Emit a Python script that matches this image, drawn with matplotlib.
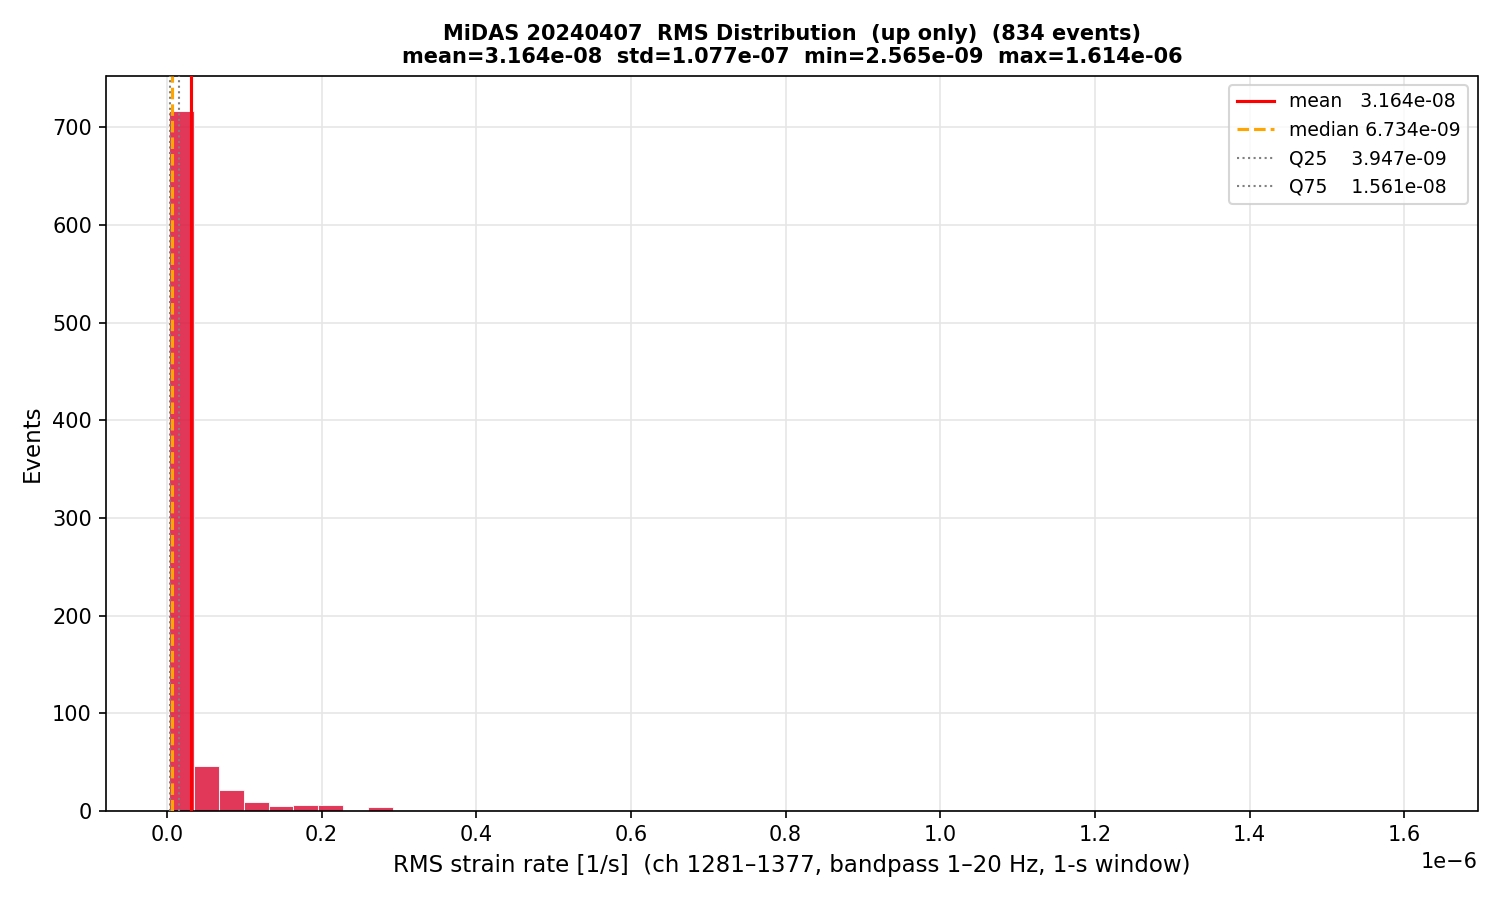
import numpy as np
import matplotlib
matplotlib.use("Agg")
import matplotlib.pyplot as plt

vmin, vmax = 2.565e-09, 1.614e-06
n_bins = 50
counts = [717, 46, 21, 9, 5, 6, 6, 1, 4, 0,
          1, 0, 0, 0, 1, 0, 0, 0, 0, 0,
          0, 0, 0, 0, 0, 0, 0, 0, 0, 0,
          0, 0, 0, 1, 0, 0, 0, 0, 0, 0,
          0, 0, 0, 0, 0, 0, 0, 0, 0, 1]
mean, median, q25, q75 = 3.164e-08, 6.734e-09, 3.947e-09, 1.561e-08
std = 1.077e-07

edges = np.linspace(vmin, vmax, n_bins + 1)
centers = 0.5 * (edges[:-1] + edges[1:])

fig, ax = plt.subplots(figsize=(10, 6), dpi=150)
ax.hist(centers, bins=edges, weights=counts, color="crimson", alpha=0.85,
        edgecolor="white", linewidth=0.5, zorder=2)
ax.axvline(mean, color="red", lw=1.5, label=f"mean   {mean:.3e}", zorder=3)
ax.axvline(median, color="orange", lw=1.5, ls="--", label=f"median {median:.3e}", zorder=3)
ax.axvline(q25, color="gray", lw=1.0, ls=":", label=f"Q25    {q25:.3e}", zorder=3)
ax.axvline(q75, color="gray", lw=1.0, ls=":", label=f"Q75    {q75:.3e}", zorder=3)
ax.grid(True, color="#e6e6e6", zorder=0)
ax.set_axisbelow(True)
ax.set_xlabel("RMS strain rate [1/s]  (ch 1281\u20131377, bandpass 1\u201320 Hz, 1-s window)", fontsize=11)
ax.set_ylabel("Events", fontsize=11)
ax.set_title(f"MiDAS 20240407  RMS Distribution  (up only)  (834 events)\n"
             f"mean={mean:.3e}  std={std:.3e}  min={vmin:.3e}  max={vmax:.3e}",
             fontsize=10, fontweight="bold")
ax.legend(loc="upper right", fontsize=9)
fig.subplots_adjust(left=0.071, right=0.985, top=0.916, bottom=0.099)
fig.savefig("out.png")
